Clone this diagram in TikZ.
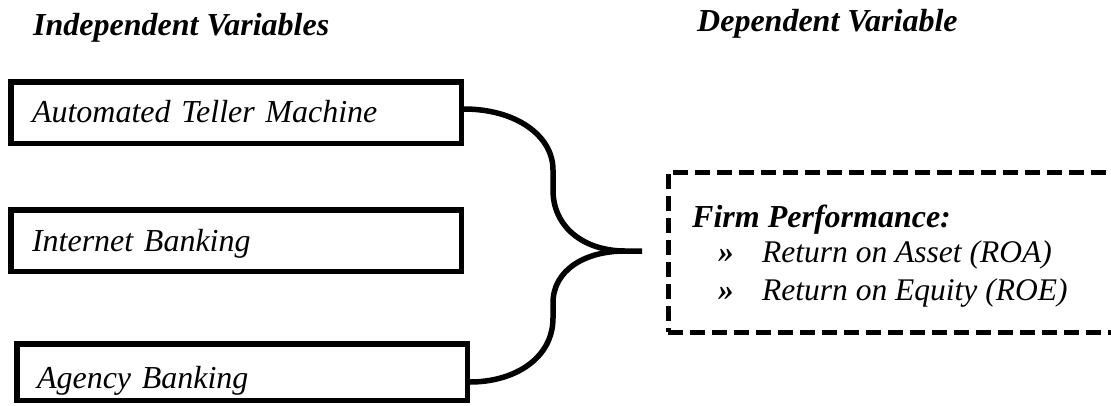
\documentclass[tikz,border=0pt]{standalone}
\usepackage{fontspec}
\setmainfont{Liberation Serif}
\usetikzlibrary{calc}
\begin{document}
\begin{tikzpicture}[x=1pt,y=-1pt,
  ivbox/.style={draw, line width=5.5pt, rectangle, inner ysep=0pt,
    inner xsep=21.25pt, minimum height=61.5pt, text width=408pt, align=left,
    font=\fontsize{32pt}{36pt}\selectfont\itshape},
  dvbox/.style={draw, line width=5pt, rectangle, inner sep=0pt,
    dash pattern=on 15pt off 7pt},
  headtext/.style={anchor=base west, inner sep=0pt,
    font=\fontsize{32pt}{36pt}\selectfont\bfseries\itshape},
  dvtext/.style={anchor=base west, inner sep=0pt,
    font=\fontsize{31.5pt}{36pt}\selectfont\itshape},
  brace/.style={line width=5.5pt},
]
\clip (0,0) rectangle (1111,405);
\fill[white] (0,0) rectangle (1111,405);

% headers
\node[headtext] (ivh) at (33,35) {Independent Variables};
\node[headtext] (dvh) at (697,31) {Dependent Variable};

% independent variable boxes
\node[ivbox, text height=22pt, text depth=3pt] (b1) at (236,112.5) {Automated Teller Machine};
\node[ivbox, text height=24pt, text depth=3pt] (b2) at (236,240.5) {Internet Banking};
\node[ivbox, inner xsep=20.25pt, text width=410pt, minimum height=56.5pt,
      text height=32pt, text depth=0pt] (b3) at (242,372) {Agency Banking};

% dependent variable box
\node[dvbox, minimum width=480pt, minimum height=160pt] (dv) at (908,252) {};
\node[headtext] (fp) at (692,227) {Firm Performance:};
\node[dvtext] (roa) at (718,262) {\makebox[44pt][l]{\bfseries »}Return on Asset (ROA)};
\node[dvtext] (roe) at (718,300) {\makebox[44pt][l]{\bfseries »}Return on Equity (ROE)};

% brace
\coordinate (cusp) at (625,251);
\coordinate (tip) at (642,251);
\draw[brace] ([yshift=3.5pt]b1.east) .. controls (515,109) and (553,135) .. (553,170)
  -- (553,190) .. controls (553,228) and (585,251) .. (cusp) -- (tip);
\draw[brace] (cusp) .. controls (585,251) and (553,270) .. (553,303)
  -- (553,318) .. controls (553,358) and (515,382) .. ([yshift=-10pt]b3.east);
\end{tikzpicture}
\end{document}
